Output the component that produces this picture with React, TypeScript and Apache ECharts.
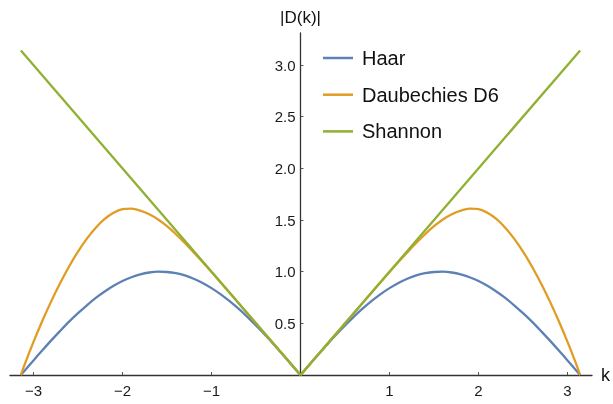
import React, { useEffect, useRef } from "react";
import * as echarts from "echarts";

// k samples (positive half; the curves are even in k)
const kValues = [
  0, 0.1, 0.2, 0.3, 0.4, 0.5, 0.6, 0.7, 0.8, 0.9, 1.0, 1.1, 1.2, 1.3, 1.4, 1.5,
  1.6, 1.7, 1.8, 1.9, 2.0, 2.1, 2.2, 2.3, 2.4, 2.5, 2.6, 2.7, 2.8, 2.9, 3.0, 3.1,
  3.1416,
];
const haarValues = [
  0, 0.1, 0.199, 0.296, 0.389, 0.479, 0.565, 0.644, 0.717, 0.783, 0.841, 0.891,
  0.932, 0.964, 0.985, 0.997, 1.0, 0.992, 0.974, 0.946, 0.909, 0.863, 0.808,
  0.746, 0.675, 0.598, 0.516, 0.427, 0.335, 0.239, 0.141, 0.042, 0,
];
const d6Values = [
  0, 0.1, 0.2, 0.3, 0.4, 0.5, 0.6, 0.699, 0.799, 0.898, 0.997, 1.093, 1.187,
  1.277, 1.362, 1.44, 1.505, 1.555, 1.59, 1.61, 1.605, 1.57, 1.51, 1.425, 1.32,
  1.195, 1.05, 0.89, 0.715, 0.525, 0.32, 0.1, 0,
];
const shannonK = [0, 3.1416];
const shannonValues = [0, 3.1416];

const xTicks = [-3, -2, -1, 1, 2, 3];
const yTicks = [0.5, 1.0, 1.5, 2.0, 2.5, 3.0];
const seriesNames = ["Haar", "Daubechies D6", "Shannon"];
const colors = ["#5E81B5", "#E19C24", "#8FB032"];

const X_MIN = -3.264;
const X_MAX = 3.275;
const GRID_LEFT = 10;
const GRID_RIGHT = 21;

function half(ks: number[], vs: number[], sign: number): number[][] {
  return ks.map((k, i) => [sign * k, vs[i]]);
}

export default function App() {
  const ref = useRef<HTMLDivElement>(null);
  useEffect(() => {
    if (!ref.current) return;
    const chart = echarts.init(ref.current, undefined, { renderer: "svg" });
    const font = "'Liberation Sans', Arial, sans-serif";
    const sources: [number[], number[]][] = [
      [kValues, haarValues],
      [kValues, d6Values],
      [shannonK, shannonValues],
    ];
    const plotW = 613 - GRID_LEFT - GRID_RIGHT;
    const zeroOffset = (-X_MIN / (X_MAX - X_MIN)) * plotW;
    const series: any[] = [];
    sources.forEach(([ks, vs], i) => {
      [-1, 1].forEach((sign) => {
        series.push({
          name: seriesNames[i],
          type: "line",
          data: half(ks, vs, sign),
          symbol: "none",
          showSymbol: false,
          smooth: 0.3,
          color: colors[i],
          lineStyle: { color: colors[i], width: 2.3 },
          z: 2 + i,
        });
      });
    });
    chart.setOption({
      animation: false,
      textStyle: { fontFamily: font },
      grid: {
        left: GRID_LEFT,
        right: GRID_RIGHT,
        top: 33,
        bottom: 29,
        outerBoundsMode: "none",
      },
      legend: {
        orient: "vertical",
        left: 323,
        top: 48,
        padding: 0,
        itemWidth: 30,
        itemHeight: 2.5,
        itemGap: 16.7,
        icon: "rect",
        textStyle: {
          fontSize: 20,
          lineHeight: 20,
          color: "#111",
          fontFamily: font,
          padding: [0, 0, 0, 4],
        },
        data: seriesNames,
      },
      xAxis: {
        type: "value",
        min: X_MIN,
        max: X_MAX,
        name: "k",
        nameLocation: "end",
        nameGap: 9,
        nameTextStyle: { fontSize: 18, color: "#111", fontFamily: font },
        axisLine: { onZero: true, lineStyle: { color: "#333", width: 1.3 } },
        axisTick: {
          show: true,
          inside: true,
          length: 3,
          customValues: xTicks,
          lineStyle: { color: "#555", width: 1 },
        },
        axisLabel: {
          customValues: xTicks,
          fontSize: 15,
          color: "#1a1a1a",
          margin: 8,
          formatter: (v: number) => String(v).replace("-", "\u2212"),
        },
        splitLine: { show: false },
      },
      yAxis: {
        type: "value",
        min: 0,
        max: 3.31,
        position: "left",
        offset: -zeroOffset,
        name: "|D(k)|",
        nameLocation: "end",
        nameGap: 7,
        nameTextStyle: { fontSize: 17, color: "#111", fontFamily: font },
        axisLine: {
          show: true,
          onZero: false,
          lineStyle: { color: "#333", width: 1.3 },
        },
        axisTick: {
          show: true,
          inside: true,
          length: 3,
          customValues: yTicks,
          lineStyle: { color: "#555", width: 1 },
        },
        axisLabel: {
          customValues: yTicks,
          fontSize: 15,
          color: "#1a1a1a",
          margin: 5,
          formatter: (v: number) => v.toFixed(1),
        },
        splitLine: { show: false },
      },
      series,
    });
    return () => chart.dispose();
  }, []);
  return (
    <div
      ref={ref}
      style={{ position: "fixed", left: 0, top: 0, width: 613, height: 404 }}
    />
  );
}
